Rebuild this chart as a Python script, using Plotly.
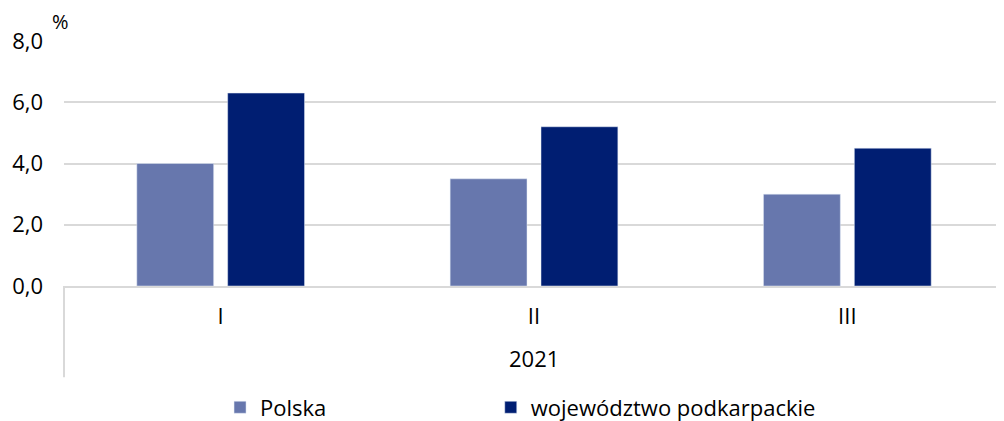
import plotly.graph_objects as go

categories = ["I", "II", "III"]
polska = [4.0, 3.5, 3.0]
podkarpackie = [6.3, 5.2, 4.5]
y_ticks = [0, 2, 4, 6, 8]
y_tick_labels = ["0,0", "2,0", "4,0", "6,0", "8,0"]
year_label = "2021"

FONT = "Open Sans, Noto Sans, sans-serif"

fig = go.Figure()
fig.add_trace(go.Bar(x=categories, y=polska, name="Polska", marker_color="#6777AD",
                     legend="legend"))
fig.add_trace(go.Bar(x=categories, y=podkarpackie, name="województwo podkarpackie",
                     marker_color="#001E72", legend="legend2"))

legend_common = dict(orientation="h", y=-0.41, yanchor="top", xanchor="left",
                     font=dict(size=22), itemwidth=30, bgcolor="rgba(0,0,0,0)")

# page body has an 8px margin, so the figure is sized/offset to fit the 1004x421 window
fig.update_layout(
    width=996, height=413,
    margin=dict(l=56, r=0, t=33, b=135, autoexpand=False),
    paper_bgcolor="white", plot_bgcolor="white",
    barmode="group", bargap=0.42, bargroupgap=0.154,
    font=dict(family=FONT, size=22, color="#000000"),
    showlegend=True,
    legend=dict(x=0.166, **legend_common),
    legend2=dict(x=0.454, **legend_common),
)
fig.update_yaxes(range=[0, 8], tickvals=y_ticks, ticktext=y_tick_labels,
                 showgrid=True, gridcolor="#D9D9D9", gridwidth=2, automargin=False,
                 zeroline=False, showline=False, ticks="", ticklabelstandoff=20)
fig.update_xaxes(showgrid=False, showline=True, linecolor="#D9D9D9", linewidth=2,
                 ticks="", zeroline=False, automargin=False, ticklabelstandoff=10)

fig.add_annotation(text="%", xref="paper", yref="paper", x=-0.004, y=1.08,
                   xanchor="center", yanchor="middle", showarrow=False, font=dict(size=20))
fig.add_annotation(text=year_label, xref="paper", yref="paper", x=0.5, y=-0.294,
                   xanchor="center", yanchor="middle", showarrow=False, font=dict(size=22))
fig.add_shape(type="line", xref="paper", yref="paper", x0=0, x1=0, y0=0, y1=-0.372,
              line=dict(color="#D9D9D9", width=2))

fig.write_html("out.html")
